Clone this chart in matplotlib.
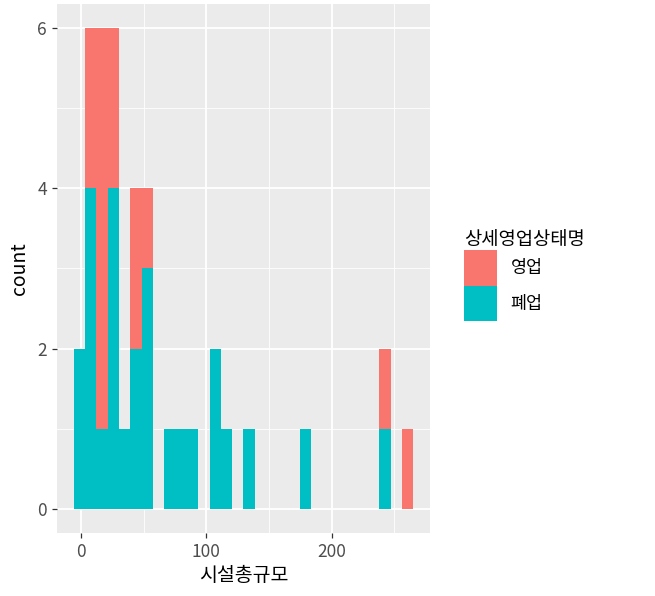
import matplotlib.pyplot as plt
from matplotlib.patches import Patch
import numpy as np

plt.rcParams['font.family'] = ['Noto Sans CJK KR', 'DejaVu Sans']

# histogram bins (30 bins)
bin_left = -5.8
bin_width = 9.025
# counts per bin, 폐업 (bottom) and 영업 (stacked on top)
closed_counts = [2, 4, 1, 4, 1, 2, 3, 0, 1, 1, 1, 0, 2, 1, 0, 1, 0, 0, 0, 0,
                 1, 0, 0, 0, 0, 0, 0, 1, 0, 0]
open_counts = [0, 2, 5, 2, 0, 2, 1, 0, 0, 0, 0, 0, 0, 0, 0, 0, 0, 0, 0, 0,
               0, 0, 0, 0, 0, 0, 0, 1, 0, 1]
groups = ["영업", "폐업"]
colors = {"영업": "#F8766D", "폐업": "#00BFC4"}

closed_counts = np.array(closed_counts)
open_counts = np.array(open_counts)
lefts = bin_left + bin_width * np.arange(len(closed_counts))

fig = plt.figure(figsize=(6.55, 5.96), dpi=100)
ax = fig.add_axes([0.0866, 0.1057, 0.5699, 0.8876])
ax.set_facecolor("#EBEBEB")

ax.bar(lefts, closed_counts, width=bin_width, align="edge",
       color=colors["폐업"], linewidth=0, zorder=3)
ax.bar(lefts, open_counts, width=bin_width, align="edge", bottom=closed_counts,
       color=colors["영업"], linewidth=0, zorder=3)

ax.set_xlim(-19.4, 278.4)
ax.set_ylim(-0.3, 6.3)
ax.set_xticks([0, 100, 200])
ax.set_yticks([0, 2, 4, 6])
ax.set_xticks([50, 150, 250], minor=True)
ax.set_yticks([1, 3, 5], minor=True)
ax.grid(True, which="major", color="white", linewidth=1.3, zorder=1)
ax.grid(True, which="minor", color="white", linewidth=0.6, zorder=1)
for s in ax.spines.values():
    s.set_visible(False)
ax.tick_params(which="major", length=3.5, width=0.9, color="#333333",
               labelcolor="#4D4D4D", labelsize=12.5)
ax.tick_params(which="minor", length=0)

ax.set_xlabel("시설총규모", fontsize=14, color="black", labelpad=3)
ax.set_ylabel("count", fontsize=14, color="black", labelpad=5)

handles = [Patch(facecolor=colors[g], edgecolor="none") for g in groups]
leg = fig.legend(handles, groups, title="상세영업상태명", loc="upper left",
                 bbox_to_anchor=(0.709, 0.615), frameon=False, fontsize=12.5,
                 title_fontsize=13.5, handlelength=1.9, handleheight=2.75,
                 handletextpad=0.75, labelspacing=0.0, borderaxespad=0,
                 borderpad=0)
leg._legend_box.align = "left"

fig.savefig("out.png", dpi=100)
